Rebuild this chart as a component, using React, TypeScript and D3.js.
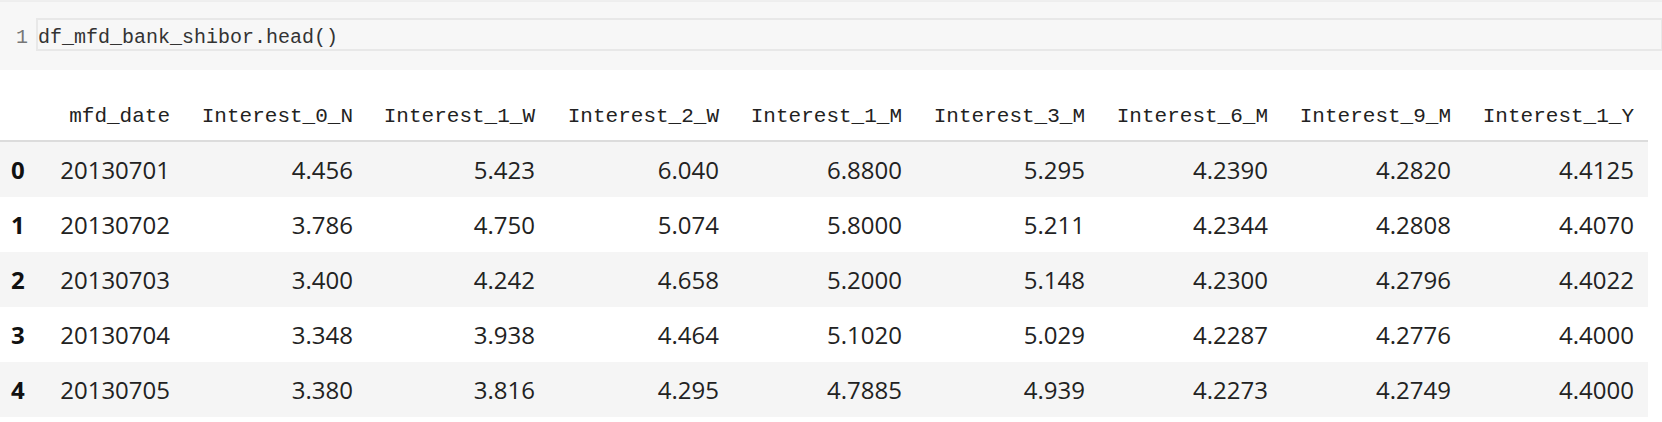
import React from "react";
import * as d3 from "d3";

const codeLine = "df_mfd_bank_shibor.head()";
const columns = ["mfd_date", "Interest_0_N", "Interest_1_W", "Interest_2_W", "Interest_1_M", "Interest_3_M", "Interest_6_M", "Interest_9_M", "Interest_1_Y"];
const index = ["0", "1", "2", "3", "4"];
const rows: string[][] = [
  ["20130701", "4.456", "5.423", "6.040", "6.8800", "5.295", "4.2390", "4.2820", "4.4125"],
  ["20130702", "3.786", "4.750", "5.074", "5.8000", "5.211", "4.2344", "4.2808", "4.4070"],
  ["20130703", "3.400", "4.242", "4.658", "5.2000", "5.148", "4.2300", "4.2796", "4.4022"],
  ["20130704", "3.348", "3.938", "4.464", "5.1020", "5.029", "4.2287", "4.2776", "4.4000"],
  ["20130705", "3.380", "3.816", "4.295", "4.7885", "4.939", "4.2273", "4.2749", "4.4000"],
];

const W = 1662;
const H = 422;
const colRight = [170, 353, 535, 719, 902, 1085, 1268, 1451, 1634];

export default function App() {
  const y = d3.scaleBand<string>().domain(index).range([142, 417]);
  const x = d3.scaleOrdinal<string, number>().domain(columns).range(colRight);
  const mono = "'Liberation Mono', 'DejaVu Sans Mono', monospace";
  const sans = "'Open Sans', 'Noto Sans', sans-serif";
  return (
    <svg width={W} height={H} style={{ position: "absolute", left: 0, top: 0 }}>
      <rect x={0} y={0} width={W} height={H} fill="#fff" />
      <rect x={0} y={0} width={W} height={70} fill="#f7f7f7" />
      <line x1={0} x2={W} y1={1} y2={1} stroke="#e6e6e6" />
      <rect x={37} y={19} width={W - 37} height={31} fill="#f7f7f7" stroke="#e8e8e8" strokeWidth={2} />
      <text x={16} y={43} fontFamily={mono} fontSize={20} fill="#777">1</text>
      <text x={38} y={43} fontFamily={mono} fontSize={20} fill="#333">{codeLine}</text>
      {columns.map((c) => (
        <text key={c} x={x(c)} y={122} textAnchor="end" fontFamily={mono} fontSize={21} fill="#222">{c}</text>
      ))}
      <line x1={0} x2={1648} y1={141} y2={141} stroke="#d0d0d0" strokeWidth={1.5} />
      {index.map((id, i) => (
        <g key={id}>
          {i % 2 === 0 && <rect x={0} y={y(id)} width={1648} height={y.bandwidth()} fill="#f5f5f5" />}
          <text x={11} y={y(id)! + y.bandwidth() / 2 + 9} fontFamily={sans} fontWeight="bold" fontSize={24} fill="#111">{id}</text>
          {rows[i].map((v, j) => (
            <text key={j} x={x(columns[j])} y={y(id)! + y.bandwidth() / 2 + 9} textAnchor="end" fontFamily={sans} fontSize={24} fill="#222">{v}</text>
          ))}
        </g>
      ))}
    </svg>
  );
}
